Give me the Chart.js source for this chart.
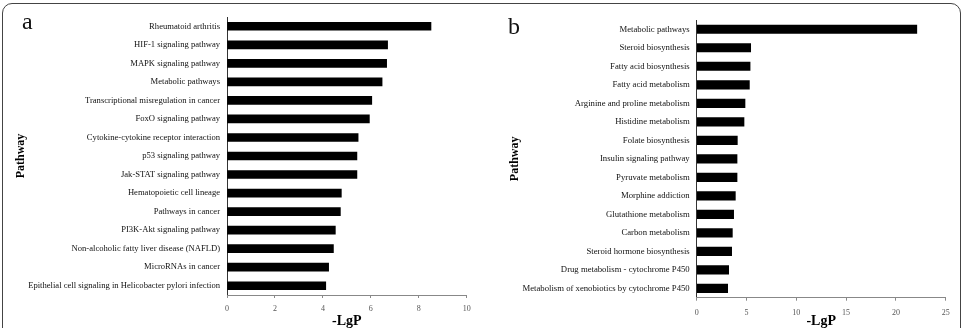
<!DOCTYPE html>
<html>
<head>
<style>
  body { margin: 0; width: 967px; height: 328px; overflow: hidden; background: #fff; position: relative; }
  .frame { position: absolute; left: 2px; top: 3px; width: 957px; height: 340px; border: 1.5px solid #444; border-radius: 10px; }
  .panel { position: absolute; top: 0; }
  .letter { position: absolute; font-family: "Liberation Serif", serif; font-size: 24px; line-height: 24px; color: #111; }
</style>
</head>
<body>

<div class="frame"></div>
<canvas id="chartA" class="panel" style="left:0px" width="482" height="328"></canvas>
<canvas id="chartB" class="panel" style="left:482px" width="485" height="328"></canvas>
<div class="letter" style="left:22px; top:9px">a</div>
<div class="letter" style="left:508px; top:14px">b</div>

<script src="https://cdn.jsdelivr.net/npm/chart.js"></script>
<script>
// panel a
const pathwaysA = [
    'Rheumatoid arthritis',
    'HIF-1 signaling pathway',
    'MAPK signaling pathway',
    'Metabolic pathways',
    'Transcriptional misregulation in cancer',
    'FoxO signaling pathway',
    'Cytokine-cytokine receptor interaction',
    'p53 signaling pathway',
    'Jak-STAT signaling pathway',
    'Hematopoietic cell lineage',
    'Pathways in cancer',
    'PI3K-Akt signaling pathway',
    'Non-alcoholic fatty liver disease (NAFLD)',
    'MicroRNAs in cancer',
    'Epithelial cell signaling in Helicobacter pylori infection'
];
const lgpA = [8.51, 6.70, 6.66, 6.47, 6.04, 5.94, 5.47, 5.42, 5.42, 4.77, 4.73, 4.52, 4.44, 4.24, 4.12];
const axisA = { min: 0, max: 10, step: 2 };

// panel b
const pathwaysB = [
    'Metabolic pathways',
    'Steroid biosynthesis',
    'Fatty acid biosynthesis',
    'Fatty acid metabolism',
    'Arginine and proline metabolism',
    'Histidine metabolism',
    'Folate biosynthesis',
    'Insulin signaling pathway',
    'Pyruvate metabolism',
    'Morphine addiction',
    'Glutathione metabolism',
    'Carbon metabolism',
    'Steroid hormone biosynthesis',
    'Drug metabolism - cytochrome P450',
    'Metabolism of xenobiotics by cytochrome P450'
];
const lgpB = [22.1, 5.42, 5.36, 5.29, 4.85, 4.75, 4.08, 4.05, 4.05, 3.88, 3.71, 3.58, 3.51, 3.21, 3.11];
const axisB = { min: 0, max: 25, step: 5 };

const serif = '"Liberation Serif", "Times New Roman", serif';

function makeChart(id, labels, values, axis, opt) {
    const ctx = document.getElementById(id).getContext('2d');
    return new Chart(ctx, {
        type: 'bar',
        data: {
            labels: labels,
            datasets: [{
                label: '-LgP',
                data: values,
                backgroundColor: '#000',
                borderWidth: 0,
                barThickness: opt.bar
            }]
        },
        options: {
            indexAxis: 'y',
            responsive: false,
            animation: false,
            devicePixelRatio: 1,
            layout: { padding: { left: opt.padLeft, top: opt.top, right: opt.padRight, bottom: 0 } },
            plugins: { legend: { display: false }, tooltip: { enabled: false } },
            scales: {
                y: {
                    offset: true,
                    grid: { display: false, drawTicks: false },
                    border: { display: true, color: '#333', width: 1 },
                    ticks: { color: '#111', font: { family: serif, size: opt.labelSize }, padding: 7 },
                    title: { display: true, text: 'Pathway', color: '#000', padding: 0,
                             font: { family: serif, size: 12, weight: 'bold', lineHeight: 1 } },
                    afterFit: s => { s.width = opt.yWidth; }
                },
                x: {
                    min: axis.min,
                    max: axis.max,
                    grid: { display: true, drawOnChartArea: false, drawTicks: true, tickLength: 3, color: '#888' },
                    border: { display: true, color: '#888', width: 1 },
                    ticks: { stepSize: axis.step, color: '#555', font: { family: serif, size: 8 }, padding: opt.tickPad, maxRotation: 0 },
                    title: { display: true, text: '-LgP', color: '#000', padding: 0,
                             font: { family: serif, size: 14, weight: 'bold', lineHeight: 1 } },
                    afterFit: s => { s.height = opt.xHeight; }
                }
            }
        }
    });
}

makeChart('chartA', pathwaysA, lgpA, axisA,
    { padLeft: 15, padRight: 15.3, top: 17, yWidth: 212, xHeight: 33, tickPad: 6, labelSize: 8.6, bar: 8 });
makeChart('chartB', pathwaysB, lgpB, axisB,
    { padLeft: 26.5, padRight: 21.3, top: 20, yWidth: 188.2, xHeight: 30.3, tickPad: 7, labelSize: 8.7, bar: 8.5 });
</script>

</body>
</html>
